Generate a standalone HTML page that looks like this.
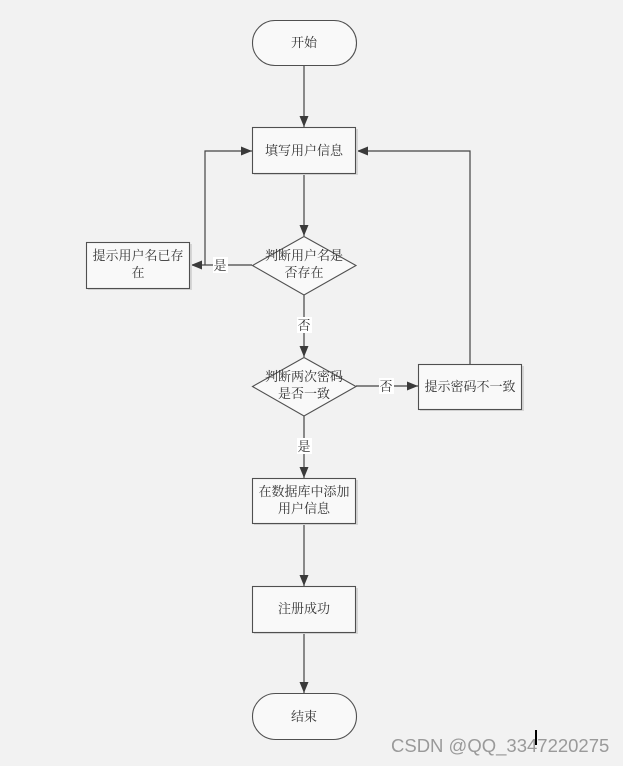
<!DOCTYPE html>
<html><head><meta charset="utf-8">
<style>
html,body{margin:0;padding:0;background:#f2f2f2;}
svg{display:block;}
text{font-family:"Liberation Serif","Noto Serif CJK SC",serif;font-size:13px;fill:#333;}
.wm{font-family:"Liberation Sans","DejaVu Sans",sans-serif;font-size:18.5px;fill:#9a9a9a;}
</style></head>
<body>
<svg width="623" height="766" viewBox="0 0 623 766" xmlns="http://www.w3.org/2000/svg">
<rect width="623" height="766" fill="#f2f2f2"/>
<defs>
<marker id="a" markerWidth="11" markerHeight="10" refX="11" refY="5" orient="auto" markerUnits="userSpaceOnUse">
<path d="M0,0.5 L11,5 L0,9.5 Z" fill="#3a3a3a"/>
</marker>
</defs>
<g stroke="#444" stroke-width="1.2" fill="none">
<line x1="304" y1="65" x2="304" y2="127" marker-end="url(#a)"/>
<line x1="304" y1="173" x2="304" y2="236" marker-end="url(#a)"/>
<line x1="252" y1="265" x2="191" y2="265" marker-end="url(#a)"/>
<polyline points="205,265 205,151 252,151" marker-end="url(#a)"/>
<line x1="304" y1="295" x2="304" y2="357" marker-end="url(#a)"/>
<line x1="356" y1="386" x2="418" y2="386" marker-end="url(#a)"/>
<polyline points="470,364 470,151 357,151" marker-end="url(#a)"/>
<line x1="304" y1="416" x2="304" y2="478" marker-end="url(#a)"/>
<line x1="304" y1="523" x2="304" y2="586" marker-end="url(#a)"/>
<line x1="304" y1="632" x2="304" y2="693" marker-end="url(#a)"/>
</g>
<g fill="#d6d6d6">
<rect x="254" y="129" width="104" height="46"/>
<rect x="88" y="244" width="104" height="46"/>
<rect x="420" y="366" width="104" height="45"/>
<rect x="254" y="480" width="104" height="45"/>
<rect x="254" y="588" width="104" height="46"/>
</g>
<g stroke="#505050" stroke-width="1.1" fill="#f9f9f9">
<rect x="252.5" y="20.5" width="104" height="45" rx="22.5"/>
<rect x="252.5" y="127.5" width="103" height="46"/>
<rect x="86.5" y="242.5" width="103" height="46"/>
<polygon points="304,236.5 356,265.5 304,295 252.5,265.5"/>
<polygon points="304,357.5 356,386.5 304,416 252.5,386.5"/>
<rect x="418.5" y="364.5" width="103" height="45"/>
<rect x="252.5" y="478.5" width="103" height="45"/>
<rect x="252.5" y="586.5" width="103" height="46"/>
<rect x="252.5" y="693.5" width="104" height="46" rx="23"/>
</g>
<g fill="#ffffff">
<rect x="213" y="257" width="15" height="16"/>
<rect x="297" y="317" width="15" height="16"/>
<rect x="379" y="378" width="15" height="16"/>
<rect x="297" y="438" width="15" height="16"/>
</g>
<g text-anchor="middle">
<text x="304" y="47">开始</text>
<text x="304" y="155">填写用户信息</text>
<text x="138" y="260">提示用户名已存</text>
<text x="138" y="277">在</text>
<text x="304" y="260">判断用户名是</text>
<text x="304" y="277">否存在</text>
<text x="220" y="270">是</text>
<text x="304" y="330">否</text>
<text x="304" y="381">判断两次密码</text>
<text x="304" y="398">是否一致</text>
<text x="386" y="391">否</text>
<text x="470" y="391">提示密码不一致</text>
<text x="304" y="451">是</text>
<text x="304" y="496">在数据库中添加</text>
<text x="304" y="513">用户信息</text>
<text x="304" y="613">注册成功</text>
<text x="304" y="721">结束</text>
</g>
<text class="wm" x="391" y="752">CSDN @QQ_3347220275</text>
<rect x="535" y="730" width="2" height="15" fill="#000"/>
</svg>
</body></html>
